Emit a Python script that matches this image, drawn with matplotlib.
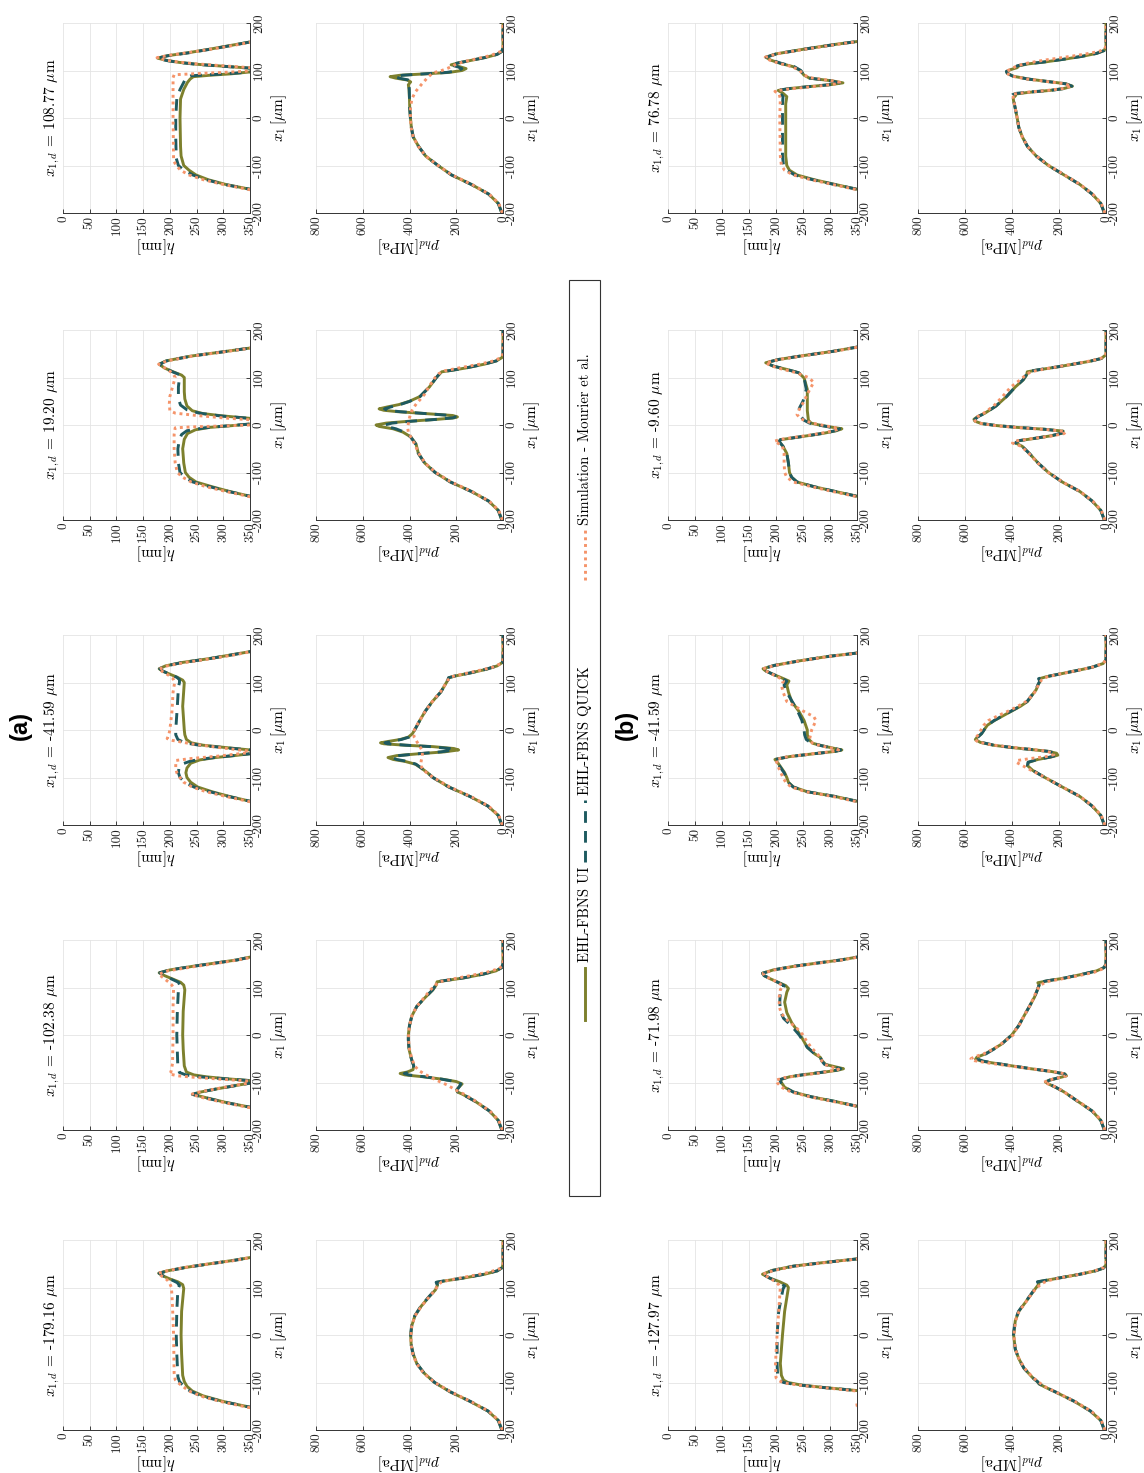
import matplotlib
matplotlib.use('Agg')
import matplotlib.pyplot as plt
from matplotlib.lines import Line2D
from matplotlib.patches import Rectangle

plt.rcParams['font.family'] = ['cmr10', 'DejaVu Serif']
plt.rcParams['mathtext.fontset'] = 'cm'
plt.rcParams['axes.unicode_minus'] = False

# dent positions x_{1,d} [um]
x1d_a = ['-179.16', '-102.38', '-41.59', '19.20', '108.77']
x1d_b = ['-127.97', '-71.98', '-41.59', '-9.60', '76.78']

h_ticks = [0, 50, 100, 150, 200, 250, 300, 350]
p_ticks = [0, 200, 400, 600, 800]
x_ticks = [-200, -100, 0, 100, 200]

# ---------------- (a) film thickness h [nm] vs x1 [um] ----------------
h_a1_ui = [(-158,400),(-152,350),(-140,300),(-128,262),(-118,242),(-108,232),(-98,227),(-85,224),(-40,222),(0,221),(50,222),(98,226),(106,224),(112,215),(118,200),(124,188),(130,179),(135,195),(142,228),(150,275),(157,318),(163,350),(170,400)]
h_a1_quick = [(-158,400),(-152,350),(-140,298),(-128,258),(-118,238),(-108,226),(-98,218),(-88,215),(-40,213),(0,212),(50,213),(96,215),(104,218),(110,214),(118,200),(124,188),(130,180),(135,196),(142,229),(150,276),(157,320),(163,350),(170,400)]
h_a1_sim = [(-160,400),(-153,350),(-142,302),(-130,262),(-118,236),(-108,224),(-100,215),(-94,210),(-80,208),(0,207),(60,205),(100,203),(108,200),(116,195),(123,186),(130,178),(136,198),(143,232),(150,276),(157,322),(164,355),(170,400)]

h_a2_ui = [(-160,400),(-152,350),(-142,305),(-132,268),(-125,243),(-120,258),(-113,290),(-106,325),(-101,352),(-99,380),(-96,350),(-92,305),(-88,268),(-84,245),(-78,231),(-65,227),(-30,225),(0,224),(50,225),(95,228),(105,226),(111,220),(118,205),(125,190),(131,180),(137,200),(145,245),(152,288),(158,325),(164,350),(170,400)]
h_a2_quick = [(-160,400),(-152,350),(-142,303),(-132,266),(-125,242),(-120,257),(-113,290),(-106,326),(-101,352),(-99,380),(-96,350),(-92,300),(-88,255),(-84,230),(-79,218),(-70,215),(0,213),(50,214),(96,216),(104,219),(111,216),(118,203),(125,190),(131,181),(137,200),(145,246),(152,289),(158,326),(164,350),(170,400)]
h_a2_sim = [(-160,400),(-153,350),(-142,300),(-132,262),(-125,240),(-120,255),(-113,288),(-106,322),(-102,345),(-99,380),(-97,350),(-93,295),(-89,245),(-86,215),(-82,199),(-78,202),(-60,205),(0,206),(60,206),(100,207),(106,203),(112,197),(120,188),(128,179),(135,196),(143,240),(150,283),(157,322),(164,356),(170,400)]

h_a3_ui = [(-160,400),(-150,350),(-140,312),(-130,279),(-120,252),(-110,239),(-100,232),(-90,230),(-80,232),(-70,239),(-63,256),(-58,285),(-54,320),(-50,350),(-46,390),(-42,350),(-37,305),(-32,262),(-27,240),(-20,231),(-10,228),(0,227),(50,224),(100,227),(105,224),(111,214),(118,199),(124,186),(129,180),(135,192),(142,222),(150,272),(158,314),(165,350),(172,400)]
h_a3_quick = [(-160,400),(-150,350),(-140,310),(-130,275),(-120,245),(-110,228),(-100,219),(-90,216),(-80,217),(-72,222),(-65,240),(-59,275),(-54,318),(-50,350),(-46,390),(-42,350),(-37,300),(-32,255),(-27,228),(-20,215),(-10,211),(0,211),(50,214),(90,216),(100,218),(106,218),(111,213),(118,199),(124,187),(129,181),(135,193),(142,223),(150,273),(158,315),(165,350),(172,400)]
h_a3_sim = [(-160,400),(-151,350),(-140,305),(-130,268),(-120,242),(-110,226),(-100,219),(-90,213),(-80,211),(-70,211),(-64,212),(-60,240),(-55,290),(-50,330),(-46,360),(-44,345),(-38,300),(-30,245),(-22,205),(-18,195),(-10,198),(0,200),(40,204),(80,206),(100,209),(108,206),(115,198),(122,188),(128,179),(135,195),(142,228),(150,276),(158,320),(165,352),(172,400)]

h_a4_ui = [(-160,400),(-150,350),(-140,312),(-130,279),(-120,249),(-110,236),(-100,229),(-80,226),(-50,224),(-30,227),(-18,233),(-10,248),(-5,275),(-1,320),(2,350),(8,390),(14,350),(19,300),(24,262),(30,242),(40,232),(55,228),(70,227),(100,227),(105,222),(112,206),(120,190),(128,180),(135,193),(145,239),(155,305),(162,350),(170,400)]
h_a4_quick = [(-160,400),(-150,350),(-140,310),(-130,275),(-120,243),(-110,228),(-100,219),(-80,216),(-50,215),(-30,218),(-20,222),(-12,232),(-6,265),(-1,315),(2,350),(8,390),(14,350),(19,295),(25,255),(32,232),(42,220),(55,216),(80,216),(100,218),(106,218),(112,205),(120,190),(128,181),(135,194),(145,240),(155,306),(162,350),(170,400)]
h_a4_sim = [(-160,400),(-151,350),(-140,305),(-130,268),(-120,240),(-110,224),(-100,214),(-80,210),(-50,208),(-20,208),(-6,210),(-4,240),(-2,300),(0,350),(6,390),(11,350),(15,300),(20,250),(25,210),(30,200),(45,199),(60,200),(80,205),(100,210),(108,206),(115,198),(122,188),(128,179),(135,195),(145,242),(155,308),(162,352),(170,400)]

h_a5_ui = [(-160,400),(-150,350),(-140,305),(-130,272),(-120,249),(-110,236),(-100,226),(-80,221),(-60,220),(0,219),(40,220),(60,226),(75,233),(82,238),(87,244),(90,275),(93,315),(97,350),(101,390),(105,350),(109,300),(113,252),(117,218),(121,195),(126,177),(131,195),(137,232),(145,275),(152,310),(160,350),(168,400)]
h_a5_quick = [(-160,400),(-150,350),(-140,302),(-130,268),(-120,243),(-110,226),(-100,216),(-85,212),(-40,211),(0,211),(40,213),(60,219),(75,226),(85,230),(89,240),(92,290),(95,330),(97,350),(101,390),(105,350),(109,298),(113,250),(117,217),(121,194),(126,177),(131,196),(137,234),(145,277),(152,312),(160,350),(168,400)]
h_a5_sim = [(-160,400),(-151,350),(-140,300),(-130,263),(-120,236),(-110,220),(-100,212),(-90,207),(0,206),(60,206),(85,206),(91,208),(94,260),(97,320),(100,360),(103,390),(106,350),(110,298),(114,250),(118,214),(122,192),(127,176),(132,198),(138,236),(145,278),(152,315),(160,354),(168,400)]

# ---------------- (a) pressure p_hd [MPa] vs x1 [um] ----------------
p_a1_ui = [(-200,5),(-180,20),(-160,65),(-140,140),(-120,225),(-100,293),(-80,338),(-60,369),(-40,384),(-20,393),(0,395),(20,390),(40,377),(60,351),(80,317),(95,289),(105,280),(111,283),(114,248),(120,168),(128,78),(135,24),(142,3),(150,0),(200,0)]
p_a1_quick = [(-200,5),(-180,20),(-160,64),(-140,139),(-120,224),(-100,292),(-80,338),(-60,369),(-40,385),(-20,393),(0,395),(20,391),(40,378),(60,352),(80,318),(95,290),(105,281),(111,286),(114,252),(120,170),(128,80),(135,25),(142,3),(150,0),(200,0)]
p_a1_sim = [(-200,3),(-180,18),(-160,62),(-140,138),(-120,222),(-100,292),(-80,340),(-60,370),(-40,386),(-20,393),(0,394),(20,390),(40,377),(60,350),(80,316),(95,290),(105,278),(112,262),(118,205),(125,130),(132,60),(140,12),(148,0),(200,0)]

p_a2_ui = [(-200,5),(-180,20),(-160,58),(-140,118),(-125,172),(-120,195),(-115,198),(-108,185),(-103,175),(-98,200),(-93,260),(-88,340),(-84,420),(-81,440),(-78,410),(-73,385),(-65,382),(-50,392),(-30,402),(-10,405),(0,405),(20,400),(40,390),(60,369),(80,331),(95,300),(105,286),(112,282),(115,240),(120,170),(128,85),(135,30),(142,5),(150,0),(200,0)]
p_a2_quick = [(-200,5),(-180,20),(-160,58),(-140,118),(-125,172),(-120,193),(-115,196),(-108,186),(-103,180),(-98,205),(-93,262),(-88,335),(-84,405),(-81,422),(-78,400),(-73,384),(-65,382),(-50,392),(-30,402),(-10,405),(0,405),(20,400),(40,390),(60,369),(80,331),(95,301),(105,288),(112,286),(115,245),(120,172),(128,86),(135,30),(142,5),(150,0),(200,0)]
p_a2_sim = [(-200,3),(-180,18),(-160,56),(-140,115),(-125,165),(-115,205),(-105,240),(-95,285),(-85,325),(-75,360),(-65,378),(-50,390),(-30,400),(-10,404),(0,404),(20,400),(40,390),(60,369),(80,335),(95,310),(105,290),(112,272),(118,215),(125,140),(132,70),(140,15),(148,0),(200,0)]

p_a3_ui = [(-200,5),(-180,20),(-160,65),(-140,141),(-120,232),(-100,300),(-90,323),(-80,350),(-72,375),(-66,420),(-62,470),(-58,492),(-54,455),(-50,360),(-46,250),(-42,190),(-39,210),(-35,300),(-32,420),(-29,510),(-27,524),(-24,490),(-20,440),(-15,405),(-8,388),(0,378),(20,356),(40,332),(60,302),(80,266),(95,248),(105,236),(110,232),(114,202),(120,140),(128,70),(135,25),(142,3),(150,0),(200,0)]
p_a3_quick = [(-200,5),(-180,20),(-160,65),(-140,141),(-120,232),(-100,300),(-90,323),(-80,350),(-72,372),(-66,410),(-62,455),(-58,474),(-54,445),(-50,365),(-46,265),(-42,210),(-39,228),(-35,310),(-32,415),(-29,495),(-27,505),(-24,478),(-20,435),(-15,402),(-8,387),(0,378),(20,356),(40,332),(60,302),(80,266),(95,248),(105,236),(110,233),(114,204),(120,142),(128,72),(135,26),(142,3),(150,0),(200,0)]
p_a3_sim = [(-200,3),(-180,18),(-160,62),(-140,138),(-120,228),(-100,298),(-85,340),(-75,352),(-65,350),(-55,345),(-45,345),(-35,355),(-25,368),(-15,380),(-5,383),(5,375),(20,356),(40,332),(60,302),(80,268),(95,248),(105,236),(112,222),(118,170),(125,105),(132,45),(140,8),(148,0),(200,0)]

p_a4_ui = [(-200,5),(-180,20),(-160,62),(-140,135),(-120,225),(-100,290),(-80,335),(-60,362),(-40,372),(-25,395),(-15,428),(-8,470),(-3,530),(0,543),(4,500),(8,400),(12,280),(15,210),(17,195),(20,215),(24,330),(28,450),(31,510),(34,530),(38,495),(43,445),(50,400),(60,355),(80,315),(100,285),(107,272),(112,262),(115,220),(120,160),(128,80),(135,28),(142,4),(150,0),(200,0)]
p_a4_quick = [(-200,5),(-180,20),(-160,62),(-140,135),(-120,225),(-100,290),(-80,335),(-60,362),(-40,374),(-25,395),(-15,422),(-8,458),(-3,500),(0,506),(4,475),(8,390),(12,282),(15,215),(17,204),(20,222),(24,330),(28,440),(31,495),(34,507),(38,480),(43,440),(50,398),(60,355),(80,315),(100,285),(107,273),(112,265),(115,222),(120,160),(128,80),(135,28),(142,4),(150,0),(200,0)]
p_a4_sim = [(-200,3),(-180,18),(-160,60),(-140,133),(-120,222),(-100,288),(-80,334),(-60,360),(-40,378),(-25,395),(-15,405),(-5,408),(5,404),(15,400),(25,395),(35,385),(45,370),(55,352),(65,335),(80,318),(100,290),(108,275),(114,250),(120,190),(128,100),(135,40),(142,8),(150,0),(200,0)]

p_a5_ui = [(-200,5),(-180,20),(-160,62),(-140,135),(-120,220),(-100,278),(-80,331),(-60,361),(-40,384),(-20,392),(0,396),(20,399),(40,400),(60,402),(70,405),(76,395),(80,410),(84,460),(87,483),(90,440),(93,330),(96,230),(100,175),(104,158),(108,185),(112,222),(116,190),(122,130),(128,70),(134,25),(140,5),(148,0),(200,0)]
p_a5_quick = [(-200,5),(-180,20),(-160,62),(-140,135),(-120,220),(-100,278),(-80,331),(-60,361),(-40,384),(-20,392),(0,396),(20,399),(40,400),(60,401),(70,402),(76,396),(80,405),(84,445),(87,462),(90,430),(93,335),(96,240),(100,188),(104,176),(108,195),(112,225),(116,192),(122,130),(128,70),(134,25),(140,5),(148,0),(200,0)]
p_a5_sim = [(-200,3),(-180,18),(-160,60),(-140,133),(-120,218),(-100,278),(-80,331),(-60,362),(-40,384),(-20,393),(0,396),(20,396),(40,390),(55,375),(70,350),(85,323),(95,300),(100,262),(105,235),(112,205),(118,172),(125,110),(132,50),(140,10),(148,0),(200,0)]

# ---------------- (b) film thickness h [nm] vs x1 [um] ----------------
h_b1_ui = [(-200,700),(-125,420),(-117,350),(-110,284),(-105,245),(-100,222),(-95,214),(-85,210),(-60,208),(0,212),(50,216),(100,223),(105,220),(112,207),(120,188),(128,175),(136,193),(145,232),(152,284),(160,348),(168,420)]
h_b1_quick = [(-200,700),(-152,380),(-147,347),(-142,380),(-125,420),(-117,350),(-110,282),(-105,240),(-100,214),(-95,206),(-85,203),(-60,202),(0,202),(50,205),(97,213),(103,216),(110,206),(120,188),(128,176),(136,194),(145,233),(152,285),(160,349),(168,420)]
h_b1_sim = [(-200,700),(-153,375),(-148,345),(-143,375),(-125,420),(-118,350),(-111,290),(-106,245),(-101,215),(-96,205),(-90,200),(-60,199),(0,202),(50,205),(100,208),(106,205),(113,198),(120,188),(128,176),(136,196),(145,236),(152,288),(160,350),(168,420)]

h_b2_ui = [(-170,420),(-150,350),(-140,310),(-130,265),(-120,232),(-110,216),(-100,210),(-94,208),(-88,225),(-83,255),(-78,290),(-74,315),(-71,325),(-67,310),(-62,292),(-55,286),(-47,282),(-40,272),(-26,258),(0,245),(26,229),(47,220),(69,216),(90,220),(98,223),(104,218),(110,206),(118,190),(125,178),(130,175),(137,195),(145,235),(152,280),(158,320),(164,350),(170,420)]
h_b2_quick = [(-170,420),(-150,350),(-140,310),(-130,265),(-120,232),(-110,216),(-100,209),(-94,207),(-88,224),(-83,254),(-78,288),(-74,312),(-71,320),(-67,306),(-62,290),(-55,285),(-47,282),(-40,272),(-26,258),(0,243),(20,228),(35,214),(50,208),(70,207),(90,208),(97,212),(104,215),(110,205),(118,190),(125,178),(130,175),(137,195),(145,235),(152,280),(158,320),(164,350),(170,420)]
h_b2_sim = [(-170,420),(-150,350),(-140,306),(-130,262),(-120,228),(-110,210),(-100,202),(-95,200),(-90,215),(-85,245),(-80,280),(-75,305),(-72,316),(-68,305),(-62,290),(-55,285),(-47,282),(-38,275),(-26,265),(-10,255),(0,250),(15,238),(30,222),(45,210),(60,206),(80,206),(95,208),(103,212),(110,205),(118,190),(125,178),(130,176),(137,197),(145,238),(152,283),(158,322),(164,352),(170,420)]

h_b3_ui = [(-170,420),(-150,350),(-140,310),(-130,258),(-120,232),(-110,223),(-100,220),(-90,216),(-80,210),(-70,204),(-62,198),(-56,225),(-50,270),(-45,310),(-42,322),(-38,305),(-33,285),(-28,268),(-20,261),(-10,258),(0,258),(10,255),(20,252),(40,242),(60,229),(80,223),(95,220),(103,224),(110,210),(118,193),(125,180),(129,176),(136,197),(145,240),(155,297),(162,350),(170,420)]
h_b3_quick = [(-170,420),(-150,350),(-140,310),(-130,258),(-120,232),(-110,222),(-100,219),(-90,215),(-80,209),(-70,203),(-62,198),(-56,225),(-50,270),(-45,310),(-42,320),(-38,304),(-33,284),(-28,266),(-20,256),(-10,253),(0,252),(10,250),(20,248),(40,240),(60,230),(85,217),(95,215),(103,220),(110,209),(118,193),(125,180),(129,176),(136,197),(145,241),(155,298),(162,350),(170,420)]
h_b3_sim = [(-170,420),(-151,350),(-140,305),(-130,255),(-120,228),(-110,218),(-100,213),(-90,209),(-80,205),(-70,202),(-62,200),(-57,218),(-51,260),(-46,300),(-42,316),(-38,302),(-33,282),(-28,268),(-20,262),(-10,264),(0,266),(10,270),(20,274),(28,270),(40,250),(60,220),(80,213),(95,210),(103,214),(110,206),(118,192),(125,180),(129,176),(136,198),(145,242),(155,300),(162,352),(170,420)]

h_b4_ui = [(-170,420),(-150,350),(-140,310),(-130,271),(-120,239),(-110,229),(-100,225),(-80,223),(-60,220),(-45,213),(-35,206),(-31,208),(-27,232),(-22,262),(-17,290),(-12,312),(-8,322),(-4,300),(0,280),(4,265),(10,260),(30,258),(50,258),(75,258),(99,252),(110,242),(117,220),(124,195),(131,181),(138,205),(146,250),(155,305),(164,350),(170,420)]
h_b4_quick = [(-170,420),(-150,350),(-140,310),(-130,271),(-120,239),(-110,229),(-100,225),(-80,223),(-60,220),(-45,213),(-35,206),(-31,208),(-27,232),(-22,262),(-17,290),(-12,310),(-8,318),(-4,298),(0,278),(4,262),(10,252),(20,244),(35,243),(50,250),(75,256),(99,252),(110,242),(117,220),(124,195),(131,181),(138,205),(146,250),(155,305),(164,350),(170,420)]
h_b4_sim = [(-170,420),(-151,350),(-140,305),(-130,266),(-120,232),(-110,220),(-100,216),(-80,215),(-60,215),(-45,212),(-38,203),(-34,197),(-30,210),(-25,240),(-20,270),(-15,295),(-10,312),(-7,316),(-3,298),(2,275),(8,255),(15,244),(22,239),(35,244),(50,252),(65,258),(80,265),(90,270),(100,260),(110,238),(118,210),(125,190),(131,181),(138,206),(146,252),(155,307),(164,352),(170,420)]

h_b5_ui = [(-170,420),(-150,350),(-140,310),(-130,271),(-120,239),(-110,225),(-100,220),(-80,218),(0,218),(30,218),(45,220),(52,213),(58,204),(62,225),(66,260),(70,300),(74,324),(78,305),(84,262),(90,252),(100,245),(108,232),(115,208),(122,190),(128,181),(135,200),(145,252),(155,310),(161,350),(170,420)]
h_b5_quick = [(-170,420),(-150,350),(-140,308),(-130,268),(-120,235),(-110,220),(-100,214),(-80,212),(0,212),(30,212),(45,213),(52,208),(58,202),(62,225),(66,260),(70,298),(74,318),(78,302),(84,262),(90,252),(100,246),(108,234),(115,210),(122,191),(128,182),(135,201),(145,253),(155,311),(161,350),(170,420)]
h_b5_sim = [(-170,420),(-151,350),(-140,305),(-130,265),(-120,232),(-110,216),(-100,210),(-80,208),(0,207),(40,208),(50,206),(56,198),(60,215),(64,250),(68,285),(72,312),(75,318),(79,300),(85,262),(92,250),(100,244),(108,230),(115,206),(122,188),(128,180),(135,202),(145,255),(155,313),(161,352),(170,420)]

# ---------------- (b) pressure p_hd [MPa] vs x1 [um] ----------------
p_b1_ui = [(-200,7),(-180,22),(-160,67),(-140,134),(-120,215),(-110,258),(-103,285),(-98,292),(-90,312),(-70,349),(-50,371),(-30,386),(0,393),(30,386),(50,371),(70,341),(90,312),(100,297),(108,285),(112,288),(115,255),(120,200),(128,110),(135,45),(141,10),(148,0),(200,0)]
p_b1_quick = [(-200,7),(-180,22),(-160,66),(-140,133),(-120,214),(-110,257),(-103,283),(-98,292),(-90,312),(-70,349),(-50,371),(-30,386),(0,394),(30,387),(50,372),(70,342),(90,313),(100,298),(108,287),(112,292),(115,258),(120,200),(128,110),(135,45),(141,10),(148,0),(200,0)]
p_b1_sim = [(-200,5),(-180,20),(-160,64),(-140,132),(-120,214),(-110,255),(-100,285),(-90,310),(-70,347),(-50,370),(-30,386),(0,392),(30,385),(50,370),(70,340),(90,312),(100,292),(108,275),(114,250),(120,198),(128,112),(135,48),(142,10),(150,0),(200,0)]

p_b2_ui = [(-200,7),(-180,22),(-160,59),(-140,119),(-120,178),(-110,215),(-103,245),(-99,258),(-95,240),(-90,200),(-86,168),(-82,175),(-77,230),(-71,320),(-65,400),(-59,480),(-55,530),(-51,555),(-47,550),(-40,515),(-30,480),(-20,447),(0,401),(20,371),(40,349),(60,326),(80,304),(95,292),(105,284),(110,290),(114,250),(120,175),(128,100),(135,40),(142,8),(150,0),(200,0)]
p_b2_quick = [(-200,7),(-180,22),(-160,59),(-140,119),(-120,178),(-110,214),(-103,244),(-99,256),(-95,240),(-90,202),(-86,170),(-82,176),(-77,230),(-71,318),(-65,398),(-59,475),(-55,522),(-51,545),(-47,542),(-40,512),(-30,478),(-20,446),(0,401),(20,371),(40,349),(60,326),(80,304),(95,292),(105,285),(110,292),(114,252),(120,176),(128,100),(135,40),(142,8),(150,0),(200,0)]
p_b2_sim = [(-200,5),(-180,20),(-160,57),(-140,117),(-120,178),(-110,212),(-104,240),(-100,265),(-95,245),(-90,200),(-86,170),(-82,172),(-77,225),(-71,320),(-65,410),(-59,500),(-54,560),(-50,575),(-46,560),(-40,522),(-30,480),(-20,450),(0,395),(10,385),(20,370),(40,349),(60,326),(80,306),(95,294),(105,278),(112,255),(118,190),(125,115),(132,50),(140,10),(148,0),(200,0)]

p_b3_ui = [(-200,7),(-180,22),(-160,59),(-140,111),(-120,186),(-100,260),(-85,312),(-75,334),(-68,330),(-62,290),(-57,235),(-53,205),(-49,210),(-45,245),(-41,320),(-37,400),(-32,480),(-26,535),(-20,556),(-15,548),(-8,530),(0,519),(10,505),(20,475),(30,438),(40,401),(50,364),(60,334),(75,312),(85,297),(95,289),(103,280),(108,283),(112,255),(118,195),(125,125),(132,60),(140,12),(148,0),(200,0)]
p_b3_quick = [(-200,7),(-180,22),(-160,59),(-140,111),(-120,186),(-100,260),(-85,312),(-75,334),(-68,332),(-62,292),(-57,238),(-53,208),(-49,212),(-45,246),(-41,320),(-37,398),(-32,476),(-26,530),(-20,550),(-15,545),(-8,530),(0,519),(10,505),(20,476),(30,440),(40,403),(50,366),(60,336),(75,313),(85,298),(95,290),(103,282),(108,287),(112,257),(118,196),(125,126),(132,60),(140,12),(148,0),(200,0)]
p_b3_sim = [(-200,5),(-180,20),(-160,57),(-140,110),(-120,186),(-100,258),(-85,318),(-75,355),(-68,382),(-64,375),(-60,320),(-56,255),(-52,222),(-48,228),(-44,260),(-40,330),(-36,410),(-31,490),(-25,545),(-20,558),(-15,552),(-8,540),(0,532),(10,520),(20,500),(30,460),(40,415),(50,375),(60,340),(75,310),(85,296),(95,288),(105,275),(112,250),(118,195),(125,125),(132,60),(140,12),(148,0),(200,0)]

p_b4_ui = [(-200,7),(-180,22),(-160,59),(-140,111),(-120,186),(-100,245),(-80,289),(-60,326),(-45,356),(-38,384),(-33,370),(-28,300),(-22,225),(-17,185),(-13,182),(-9,260),(-5,380),(-1,470),(3,530),(8,558),(12,562),(18,545),(25,515),(40,468),(60,423),(80,386),(95,352),(105,338),(112,335),(116,290),(122,210),(128,140),(134,70),(140,20),(148,0),(200,0)]
p_b4_quick = [(-200,7),(-180,22),(-160,59),(-140,111),(-120,186),(-100,245),(-80,289),(-60,326),(-45,357),(-38,386),(-33,372),(-28,302),(-22,228),(-17,188),(-13,185),(-9,262),(-5,378),(-1,468),(3,528),(8,555),(12,558),(18,543),(25,514),(40,468),(60,423),(80,386),(95,353),(105,340),(112,338),(116,292),(122,212),(128,140),(134,70),(140,20),(148,0),(200,0)]
p_b4_sim = [(-200,5),(-180,20),(-160,57),(-140,110),(-120,185),(-100,245),(-80,290),(-60,328),(-45,360),(-38,398),(-34,390),(-29,320),(-23,230),(-18,178),(-14,172),(-10,240),(-6,360),(-2,460),(3,530),(8,556),(12,560),(18,545),(25,520),(40,478),(60,440),(80,405),(95,365),(105,342),(112,320),(118,260),(124,190),(130,120),(136,55),(142,12),(150,0),(200,0)]

p_b5_ui = [(-200,7),(-180,22),(-160,59),(-140,111),(-120,178),(-100,245),(-80,297),(-60,334),(-40,356),(-20,371),(0,378),(20,386),(35,393),(42,395),(47,385),(50,392),(54,330),(58,240),(62,180),(67,143),(72,170),(77,250),(82,330),(88,395),(94,420),(98,423),(102,405),(106,378),(110,370),(114,330),(118,260),(124,175),(130,100),(136,40),(142,8),(150,0),(200,0)]
p_b5_quick = [(-200,7),(-180,22),(-160,59),(-140,111),(-120,178),(-100,245),(-80,297),(-60,334),(-40,356),(-20,371),(0,378),(20,386),(35,392),(42,396),(46,402),(49,398),(52,380),(55,320),(58,238),(62,178),(67,145),(72,172),(77,252),(82,332),(88,396),(94,420),(98,424),(102,406),(106,385),(110,378),(114,335),(118,262),(124,176),(130,100),(136,40),(142,8),(150,0),(200,0)]
p_b5_sim = [(-200,5),(-180,20),(-160,57),(-140,110),(-120,176),(-100,243),(-80,297),(-60,334),(-40,356),(-20,371),(0,378),(20,386),(35,392),(45,395),(50,400),(54,340),(58,250),(62,185),(67,148),(72,175),(77,255),(82,335),(88,400),(94,422),(98,425),(103,405),(110,378),(116,330),(122,260),(128,175),(134,95),(140,30),(146,5),(152,0),(200,0)]

series_names = ['EHL-FBNS UI', 'EHL-FBNS QUICK', 'Simulation - Mourier et al.']
colors = ['#7d802d', '#1e5a60', '#f5946a']
styles = ['-', (0, (4, 2.8)), (0, (1, 1.3))]

panels_a = [
    (h_a1_ui, h_a1_quick, h_a1_sim, p_a1_ui, p_a1_quick, p_a1_sim),
    (h_a2_ui, h_a2_quick, h_a2_sim, p_a2_ui, p_a2_quick, p_a2_sim),
    (h_a3_ui, h_a3_quick, h_a3_sim, p_a3_ui, p_a3_quick, p_a3_sim),
    (h_a4_ui, h_a4_quick, h_a4_sim, p_a4_ui, p_a4_quick, p_a4_sim),
    (h_a5_ui, h_a5_quick, h_a5_sim, p_a5_ui, p_a5_quick, p_a5_sim),
]
panels_b = [
    (h_b1_ui, h_b1_quick, h_b1_sim, p_b1_ui, p_b1_quick, p_b1_sim),
    (h_b2_ui, h_b2_quick, h_b2_sim, p_b2_ui, p_b2_quick, p_b2_sim),
    (h_b3_ui, h_b3_quick, h_b3_sim, p_b3_ui, p_b3_quick, p_b3_sim),
    (h_b4_ui, h_b4_quick, h_b4_sim, p_b4_ui, p_b4_quick, p_b4_sim),
    (h_b5_ui, h_b5_quick, h_b5_sim, p_b5_ui, p_b5_quick, p_b5_sim),
]

W, H = 1144, 1473
fig = plt.figure(figsize=(W / 100, H / 100), dpi=100)
fig.patch.set_facecolor('white')

# the page is turned 90 degrees: x1 runs up the page, h / p run across it
centres = [1335, 1035, 730, 425, 118]   # page y of x1 = 0 for each column
half = 95


def px(x0, x1, yc):
    return [x0 / W, 1 - (yc + half) / H, (x1 - x0) / W, 2 * half / H]


def setup(ax, lim, ticks, label):
    ax.set_xlim(*lim)
    ax.set_ylim(-200, 200)
    ax.set_xticks(ticks)
    ax.set_xticklabels([str(t) for t in ticks], rotation=90, fontsize=9.5)
    ax.yaxis.tick_right()
    ax.yaxis.set_label_position('right')
    ax.set_yticks(x_ticks)
    ax.set_yticklabels([str(t) for t in x_ticks], rotation=90, va='center', fontsize=9.5)
    ax.tick_params(direction='in', length=3, width=0.6, colors='#222222', pad=2)
    for s in ['top', 'left']:
        ax.spines[s].set_visible(False)
    for s in ['bottom', 'right']:
        ax.spines[s].set_color('#333333')
        ax.spines[s].set_linewidth(0.7)
    ax.grid(True, color='#e4e4e4', lw=0.6)
    ax.set_axisbelow(True)
    # original y-label was vertical, so after turning the page it reads upside down
    ax.set_xlabel(label, rotation=180, fontsize=11, labelpad=0)
    ax.set_ylabel(r'$x_1\,[\mu\mathrm{m}]$', rotation=90, fontsize=11, labelpad=3)


def draw(ax, curves):
    for pts, c, ls in zip(curves, colors, styles):
        ax.plot([v for _, v in pts], [x for x, _ in pts], color=c, ls=ls, lw=2.1)


groups = [(panels_a, x1d_a, (63, 250), (316, 503), 52),
          (panels_b, x1d_b, (668, 857), (918, 1106), 657)]

for panels, labels, hx, pxr, tx in groups:
    for k, (pan, lab) in enumerate(zip(panels, labels)):
        yc = centres[k]
        ax_h = fig.add_axes(px(hx[0], hx[1], yc))
        setup(ax_h, (0, 350), h_ticks, r'$h$[nm]')
        draw(ax_h, pan[:3])
        ax_p = fig.add_axes(px(pxr[0], pxr[1], yc))
        setup(ax_p, (800, 0), p_ticks, r'$p_{hd}$[MPa]')
        draw(ax_p, pan[3:])
        fig.text(tx / W, 1 - yc / H, r'$x_{1,d}$ = ' + lab + r' $\mu$m',
                 rotation=90, ha='center', va='center', fontsize=11)

fig.text(20 / W, 1 - 725 / H, '(a)', rotation=90, ha='center', va='center',
         fontsize=17, fontweight='bold', family='Liberation Sans')
fig.text(626 / W, 1 - 725 / H, '(b)', rotation=90, ha='center', va='center',
         fontsize=17, fontweight='bold', family='Liberation Sans')

# legend box (turned with the page)
fig.add_artist(Rectangle((569 / W, 1 - 1196 / H), 31 / W, 916 / H, transform=fig.transFigure,
                         fill=False, edgecolor='#333333', lw=0.8))
legend_pos = [(1020, 968, 962), (862, 800, 795), (580, 530, 525)]
for (y0, y1, yt), name, c, ls in zip(legend_pos, series_names, colors, styles):
    fig.add_artist(Line2D([585 / W, 585 / W], [1 - y0 / H, 1 - y1 / H], transform=fig.transFigure,
                          color=c, ls=ls, lw=2.1))
    fig.text(585 / W, 1 - yt / H, name, rotation=90, rotation_mode='anchor',
             ha='left', va='center', fontsize=10.5)

fig.savefig('out.png', dpi=100, facecolor='white')
